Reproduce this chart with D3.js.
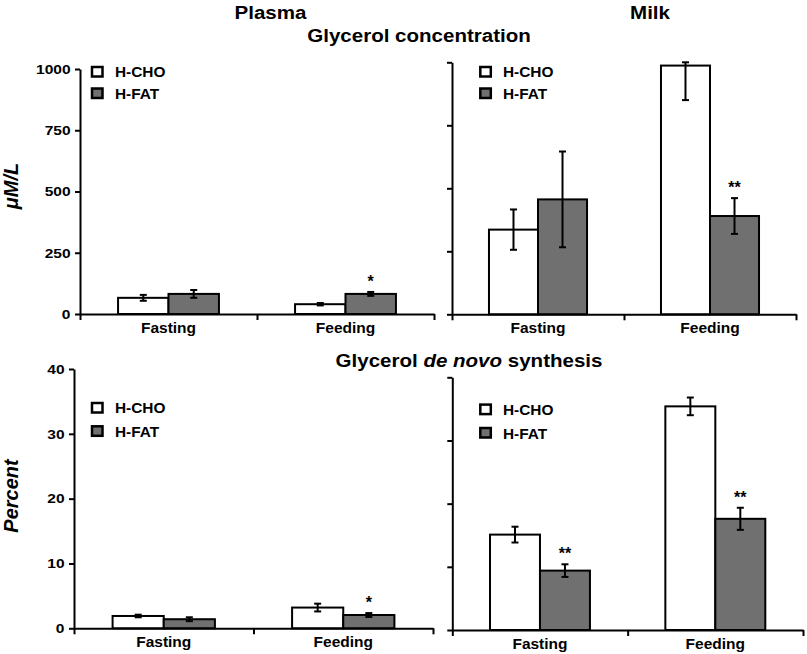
<!DOCTYPE html>
<html><head><meta charset="utf-8">
<script src="https://cdn.jsdelivr.net/npm/d3@7"></script>
<style>
body{margin:0;background:#fff}
text{font-family:"Liberation Sans",Arial,Helvetica,sans-serif;font-weight:bold;fill:#000}
</style>
</head><body>
<svg id="chart" width="807" height="654"></svg>
<script>
// ---------- DATA ----------
const categories = ["Fasting", "Feeding"];
const series = ["H-CHO", "H-FAT"];
const concTicks = [0, 250, 500, 750, 1000];
const synthTicks = [0, 10, 20, 30, 40];

// Glycerol concentration (µM/L)
const plasmaConcCHO = [66, 40];
const plasmaConcCHOErr = [12, 5];
const plasmaConcFAT = [82, 82];
const plasmaConcFATErr = [16, 8];
const plasmaConcSig = ["", "*"];

const milkConcCHO = [336, 987];
const milkConcCHOErr = [80, 137];
const milkConcFAT = [456, 390];
const milkConcFATErr = [190, 71];
const milkConcSig = ["", "**"];

// Glycerol de novo synthesis (percent)
const plasmaSynCHO = [1.9, 3.2];
const plasmaSynCHOErr = [0.2, 0.6];
const plasmaSynFAT = [1.4, 2.05];
const plasmaSynFATErr = [0.3, 0.3];
const plasmaSynSig = ["", "*"];

const milkSynCHO = [15.1, 35.4];
const milkSynCHOErr = [1.25, 1.4];
const milkSynFAT = [9.4, 17.6];
const milkSynFATErr = [1.0, 1.75];
const milkSynSig = ["**", "**"];

// ---------- LAYOUT ----------
const svg = d3.select("#chart");
const fills = {"H-CHO": "#ffffff", "H-FAT": "#707070"};

function txt(parent, x, y, str, size, anchor, sx) {
  return parent.append("text")
    .attr("transform", `translate(${x},${y}) scale(${sx},1)`)
    .attr("text-anchor", anchor)
    .style("font-size", size + "px")
    .text(str);
}

const panels = [
  {cho: plasmaConcCHO, choErr: plasmaConcCHOErr, fat: plasmaConcFAT, fatErr: plasmaConcFATErr, sig: plasmaConcSig,
   ticks: concTicks, labels: true, x0: 80, x1: 434, yTop: 69, yBot: 314,
   lg: {sqX: 92, sqY: [67, 88.5], tX: 115, tY: [76.5, 99.3]}},
  {cho: milkConcCHO, choErr: milkConcCHOErr, fat: milkConcFAT, fatErr: milkConcFATErr, sig: milkConcSig,
   ticks: concTicks, labels: false, x0: 452, x1: 796, yTop: 62.3, yBot: 314.3,
   lg: {sqX: 480.3, sqY: [67, 88.5], tX: 503, tY: [76.7, 99.3]}},
  {cho: plasmaSynCHO, choErr: plasmaSynCHOErr, fat: plasmaSynFAT, fatErr: plasmaSynFATErr, sig: plasmaSynSig,
   ticks: synthTicks, labels: true, x0: 74, x1: 433, yTop: 369, yBot: 628.3,
   lg: {sqX: 92, sqY: [403, 426.3], tX: 115, tY: [413.3, 437.3]}},
  {cho: milkSynCHO, choErr: milkSynCHOErr, fat: milkSynFAT, fatErr: milkSynFATErr, sig: milkSynSig,
   ticks: synthTicks, labels: false, x0: 452.3, x1: 803, yTop: 377.3, yBot: 630,
   lg: {sqX: 480.3, sqY: [404.6, 428], tX: 503, tY: [415, 438.5]}}
];

panels.forEach(p => {
  const g = svg.append("g");
  const yMax = p.ticks[p.ticks.length - 1];
  const y = d3.scaleLinear().domain([0, yMax]).range([p.yBot, p.yTop]);
  const x = d3.scaleBand().domain(categories).range([p.x0, p.x1]).paddingInner(0.43).paddingOuter(0.215);
  const xs = d3.scaleBand().domain(series).range([0, x.bandwidth()]);

  const rows = [];
  categories.forEach((c, i) => {
    rows.push({c, s: "H-CHO", v: p.cho[i], e: p.choErr[i], sig: ""});
    rows.push({c, s: "H-FAT", v: p.fat[i], e: p.fatErr[i], sig: p.sig[i]});
  });

  // bars
  g.selectAll("rect.bar").data(rows).join("rect")
    .attr("class", "bar")
    .attr("x", d => x(d.c) + xs(d.s))
    .attr("y", d => y(d.v))
    .attr("width", xs.bandwidth())
    .attr("height", d => y(0) - y(d.v))
    .attr("fill", d => fills[d.s])
    .attr("stroke", "#000").attr("stroke-width", 2);

  // error bars
  const eb = g.selectAll("g.err").data(rows).join("g").attr("class", "err")
    .attr("stroke", "#000").attr("stroke-width", 2);
  const cx = d => x(d.c) + xs(d.s) + xs.bandwidth() / 2;
  const top = d => y(Math.min(d.v + d.e, yMax));
  const bot = d => y(d.v - d.e);
  eb.append("line").attr("x1", cx).attr("x2", cx).attr("y1", top).attr("y2", bot);
  eb.append("line").attr("x1", d => cx(d) - 3.5).attr("x2", d => cx(d) + 3.5).attr("y1", top).attr("y2", top);
  eb.append("line").attr("x1", d => cx(d) - 3.5).attr("x2", d => cx(d) + 3.5).attr("y1", bot).attr("y2", bot);

  // significance
  rows.filter(d => d.sig).forEach(d => {
    txt(g, cx(d), top(d) - 5, d.sig, 16, "middle", 1);
  });

  // y axis
  const ya = g.append("g").attr("transform", `translate(${p.x0},0)`)
    .call(d3.axisLeft(y).tickValues(p.ticks).tickSize(5).tickSizeOuter(0)
      .tickFormat(p.labels ? d3.format("d") : () => ""));
  ya.select(".domain").attr("stroke", "#000").attr("stroke-width", 2);
  ya.selectAll(".tick line").attr("stroke", "#000").attr("stroke-width", 2);
  ya.selectAll(".tick text")
    .attr("x", -9.5 / 1.15).attr("transform", "scale(1.15,1)")
    .attr("font-family", null).attr("font-size", null)
    .style("font-size", "13.5px");

  // x axis
  const xl = d3.scaleLinear().domain([0, categories.length]).range([p.x0, p.x1]);
  const xa = g.append("g").attr("transform", `translate(0,${p.yBot})`)
    .call(d3.axisBottom(xl).tickValues(d3.range(categories.length + 1)).tickSize(6).tickSizeOuter(0).tickFormat(() => ""));
  xa.select(".domain").attr("stroke", "#000").attr("stroke-width", 2);
  xa.selectAll(".tick line").attr("stroke", "#000").attr("stroke-width", 2);
  categories.forEach(c => {
    txt(g, x(c) + x.bandwidth() / 2, p.yBot + 18.5, c, 15.5, "start", 1).attr("text-anchor", "middle");
  });

  // legend
  series.forEach((s, i) => {
    g.append("rect").attr("x", p.lg.sqX).attr("y", p.lg.sqY[i]).attr("width", 10.5).attr("height", 9.5)
      .attr("fill", fills[s]).attr("stroke", "#000").attr("stroke-width", 2.5);
    txt(g, p.lg.tX, p.lg.tY[i], s, 14, "start", 1.1);
  });
});

// titles
txt(svg, 270.5, 18.5, "Plasma", 18.5, "middle", 1.11);
txt(svg, 650, 18.5, "Milk", 18.5, "middle", 1.11);
txt(svg, 419, 41.7, "Glycerol concentration", 18.5, "middle", 1.11);
const t2 = svg.append("text").attr("transform", "translate(469,366.7) scale(1.11,1)")
  .attr("text-anchor", "middle").style("font-size", "18.5px");
t2.append("tspan").text("Glycerol ");
t2.append("tspan").style("font-style", "italic").text("de novo");
t2.append("tspan").text(" synthesis");

// y-axis titles
svg.append("text").attr("transform", "translate(18,186) rotate(-90)").attr("text-anchor", "middle")
  .style("font-size", "20px").style("font-style", "italic").text("\u03bcM/L");
svg.append("text").attr("transform", "translate(18,496) rotate(-90)").attr("text-anchor", "middle")
  .style("font-size", "20px").style("font-style", "italic").text("Percent");
</script>
</body></html>
